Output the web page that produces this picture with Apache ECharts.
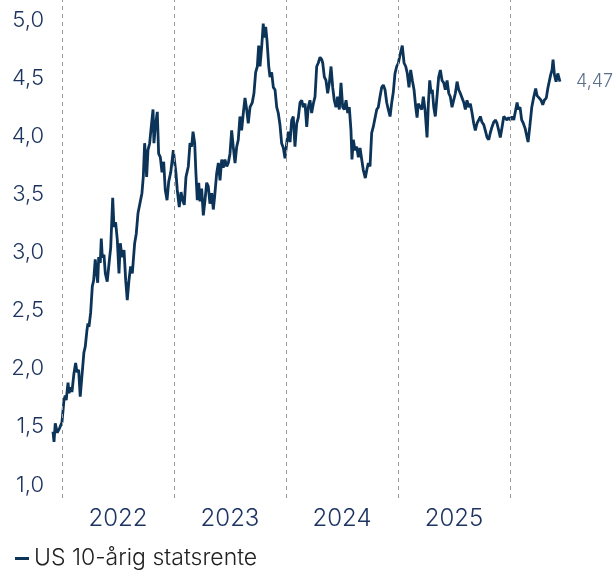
<!DOCTYPE html>
<html>
<head>
<meta charset="utf-8">
<script src="https://cdn.jsdelivr.net/npm/echarts@6/dist/echarts.min.js"></script>
<style>
  html, body { margin: 0; padding: 0; background: #fff; }
  #chart { width: 616px; height: 575px; }
</style>
</head>
<body>
<div id="chart"></div>
<script>
// tid i desimalår, rente i prosent
const time = [
  2021.920, 2021.929, 2021.940, 2021.958, 2021.979, 2022.000, 2022.018, 2022.029, 2022.038, 2022.054,
  2022.063, 2022.078, 2022.089, 2022.107, 2022.122, 2022.134, 2022.149, 2022.163, 2022.179, 2022.196,
  2022.208, 2022.223, 2022.232, 2022.241, 2022.256, 2022.271, 2022.283, 2022.297, 2022.310, 2022.319,
  2022.328, 2022.342, 2022.351, 2022.360, 2022.375, 2022.387, 2022.404, 2022.426, 2022.435, 2022.453,
  2022.464, 2022.479, 2022.494, 2022.509, 2022.521, 2022.536, 2022.554, 2022.569, 2022.583, 2022.598,
  2022.613, 2022.628, 2022.649, 2022.663, 2022.679, 2022.694, 2022.714, 2022.726, 2022.738, 2022.747,
  2022.756, 2022.768, 2022.783, 2022.797, 2022.813, 2022.821, 2022.833, 2022.851, 2022.863, 2022.878,
  2022.893, 2022.908, 2022.922, 2022.938, 2022.953, 2022.971, 2022.994, 2023.018, 2023.029, 2023.047,
  2023.063, 2023.078, 2023.092, 2023.107, 2023.128, 2023.143, 2023.158, 2023.170, 2023.185, 2023.196,
  2023.208, 2023.221, 2023.232, 2023.247, 2023.262, 2023.277, 2023.292, 2023.306, 2023.321, 2023.337,
  2023.351, 2023.363, 2023.381, 2023.396, 2023.411, 2023.426, 2023.440, 2023.455, 2023.471, 2023.485,
  2023.500, 2023.515, 2023.529, 2023.545, 2023.560, 2023.574, 2023.589, 2023.604, 2023.619, 2023.634,
  2023.649, 2023.663, 2023.679, 2023.699, 2023.714, 2023.729, 2023.744, 2023.756, 2023.768, 2023.783,
  2023.797, 2023.806, 2023.819, 2023.830, 2023.846, 2023.857, 2023.872, 2023.887, 2023.902, 2023.917,
  2023.931, 2023.946, 2023.961, 2023.976, 2023.991, 2024.006, 2024.021, 2024.036, 2024.051, 2024.065,
  2024.080, 2024.096, 2024.110, 2024.125, 2024.140, 2024.154, 2024.170, 2024.185, 2024.199, 2024.214,
  2024.229, 2024.244, 2024.259, 2024.274, 2024.288, 2024.304, 2024.319, 2024.328, 2024.342, 2024.357,
  2024.372, 2024.387, 2024.402, 2024.417, 2024.431, 2024.446, 2024.461, 2024.476, 2024.491, 2024.506,
  2024.521, 2024.536, 2024.551, 2024.565, 2024.580, 2024.589, 2024.601, 2024.616, 2024.631, 2024.646,
  2024.661, 2024.676, 2024.690, 2024.708, 2024.721, 2024.735, 2024.750, 2024.765, 2024.779, 2024.795,
  2024.810, 2024.824, 2024.839, 2024.854, 2024.869, 2024.884, 2024.899, 2024.913, 2024.929, 2024.944,
  2024.958, 2024.973, 2024.988, 2025.003, 2025.018, 2025.038, 2025.054, 2025.069, 2025.083, 2025.098,
  2025.113, 2025.128, 2025.143, 2025.158, 2025.170, 2025.181, 2025.196, 2025.212, 2025.226, 2025.241,
  2025.259, 2025.271, 2025.283, 2025.295, 2025.306, 2025.319, 2025.333, 2025.348, 2025.363, 2025.378,
  2025.393, 2025.408, 2025.422, 2025.438, 2025.453, 2025.467, 2025.482, 2025.497, 2025.512, 2025.527,
  2025.542, 2025.556, 2025.571, 2025.587, 2025.601, 2025.616, 2025.631, 2025.646, 2025.661, 2025.676,
  2025.690, 2025.705, 2025.721, 2025.735, 2025.750, 2025.765, 2025.779, 2025.795, 2025.810, 2025.824,
  2025.839, 2025.854, 2025.869, 2025.884, 2025.899, 2025.913, 2025.929, 2025.944, 2025.958, 2025.973,
  2025.988, 2026.003, 2026.018, 2026.033, 2026.047, 2026.063, 2026.074, 2026.089, 2026.104, 2026.119,
  2026.134, 2026.149, 2026.161, 2026.176, 2026.194, 2026.212, 2026.229, 2026.241, 2026.259, 2026.277,
  2026.292, 2026.306, 2026.324, 2026.337, 2026.351, 2026.363, 2026.375, 2026.384, 2026.396, 2026.411,
  2026.426, 2026.440, 2026.446
]
const yields = [
  1.46, 1.37, 1.53, 1.45, 1.49, 1.54, 1.73, 1.77, 1.73, 1.88,
  1.79, 1.84, 1.80, 1.96, 2.05, 1.97, 1.99, 1.76, 1.76, 2.14,
  2.19, 2.33, 2.39, 2.36, 2.48, 2.71, 2.76, 2.94, 2.82, 2.74,
  2.96, 2.91, 3.12, 2.96, 2.98, 2.82, 2.75, 2.96, 3.04, 3.47,
  3.22, 3.26, 3.11, 2.82, 3.08, 2.96, 3.02, 2.76, 2.59, 2.76,
  2.88, 2.82, 3.08, 3.16, 3.34, 3.35, 3.51, 3.65, 3.94, 3.82,
  3.65, 3.88, 3.94, 4.08, 4.23, 3.94, 4.08, 4.21, 3.85, 3.82,
  3.69, 3.78, 3.54, 3.45, 3.61, 3.69, 3.88, 3.68, 3.54, 3.39,
  3.52, 3.45, 3.41, 3.65, 3.74, 3.94, 3.91, 4.04, 3.94, 3.68,
  3.45, 3.60, 3.44, 3.55, 3.32, 3.45, 3.60, 3.57, 3.42, 3.51,
  3.37, 3.48, 3.68, 3.77, 3.62, 3.80, 3.73, 3.80, 3.74, 3.77,
  3.85, 4.05, 3.91, 3.77, 3.91, 3.97, 4.17, 4.05, 4.20, 4.33,
  4.23, 4.11, 4.25, 4.29, 4.37, 4.55, 4.60, 4.78, 4.60, 4.77,
  4.97, 4.85, 4.94, 4.83, 4.60, 4.51, 4.55, 4.42, 4.40, 4.25,
  4.20, 4.10, 3.94, 3.90, 3.81, 3.94, 4.04, 3.95, 4.14, 4.17,
  3.91, 4.11, 4.16, 4.29, 4.31, 4.25, 4.28, 4.08, 4.25, 4.31,
  4.20, 4.28, 4.34, 4.60, 4.63, 4.68, 4.66, 4.63, 4.51, 4.48,
  4.37, 4.46, 4.60, 4.42, 4.31, 4.25, 4.34, 4.23, 4.46, 4.25,
  4.23, 4.31, 4.20, 4.25, 4.05, 3.80, 3.97, 3.88, 3.91, 3.82,
  3.90, 3.80, 3.71, 3.64, 3.71, 3.77, 3.74, 4.03, 4.08, 4.07,
  4.23, 4.25, 4.34, 4.42, 4.44, 4.40, 4.29, 4.23, 4.17, 4.29,
  4.38, 4.54, 4.60, 4.63, 4.70, 4.78, 4.63, 4.60, 4.54, 4.42,
  4.57, 4.48, 4.40, 4.25, 4.16, 4.28, 4.29, 4.23, 4.34, 4.23,
  3.99, 4.28, 4.48, 4.37, 4.40, 4.25, 4.17, 4.34, 4.51, 4.57,
  4.48, 4.46, 4.40, 4.48, 4.37, 4.34, 4.25, 4.24, 4.37, 4.47,
  4.40, 4.37, 4.38, 4.29, 4.23, 4.31, 4.25, 4.28, 4.20, 4.11,
  4.05, 4.11, 4.14, 4.17, 4.12, 4.10, 4.05, 3.99, 3.97, 4.03,
  4.08, 4.12, 4.14, 4.11, 4.05, 3.99, 4.08, 4.17, 4.17, 4.14,
  4.16, 4.14, 4.17, 4.14, 4.14, 4.29, 4.23, 4.25, 4.14, 4.11,
  4.07, 4.08, 3.95, 4.08, 4.25, 4.34, 4.41, 4.35, 4.33, 4.31,
  4.27, 4.31, 4.33, 4.41, 4.40, 4.53, 4.57, 4.66, 4.53, 4.47,
  4.54, 4.55, 4.47
]
const yearLines = [2022, 2023, 2024, 2025, 2026]
const yearLabels = [2022.5, 2023.5, 2024.5, 2025.5]
const seriesName = 'US 10-årig statsrente'

const xMin = 2021.92
const xMax = 2026.446
const font = 'Inter'
const navy = '#0c3358'

const chart = echarts.init(document.getElementById('chart'))
chart.setOption({
  animation: false,
  grid: [
    { left: 53, right: 56, top: 20, bottom: 90 },
    { left: 53, right: 56, top: 0, bottom: 77 }
  ],
  legend: {
    left: 10,
    bottom: 0,
    itemWidth: 14,
    itemHeight: 3,
    icon: 'rect',
    textStyle: { fontFamily: font, fontWeight: 300, fontSize: 23, color: '#222' },
    data: [seriesName]
  },
  xAxis: [
    {
      type: 'value',
      gridIndex: 0,
      min: xMin,
      max: xMax,
      axisLine: { show: false },
      axisTick: { show: false },
      splitLine: { show: false },
      axisLabel: {
        customValues: yearLabels,
        formatter: (v) => String(Math.floor(v)),
        margin: 22,
        fontFamily: font,
        fontWeight: 300,
        fontSize: 24,
        color: '#1d3461'
      }
    },
    {
      type: 'value',
      gridIndex: 1,
      min: xMin,
      max: xMax,
      show: false
    }
  ],
  yAxis: [
    {
      type: 'value',
      gridIndex: 0,
      min: 1,
      max: 5,
      interval: 0.5,
      axisLine: { show: false },
      axisTick: { show: false },
      splitLine: { show: false },
      axisLabel: {
        formatter: (v) => v.toFixed(1).replace('.', ','),
        margin: 9,
        fontFamily: font,
        fontWeight: 300,
        fontSize: 22,
        color: '#1d3461'
      }
    },
    {
      type: 'value',
      gridIndex: 1,
      min: 0,
      max: 1,
      show: false
    }
  ],
  series: [
    {
      name: 'årsskille',
      type: 'line',
      xAxisIndex: 1,
      yAxisIndex: 1,
      data: [],
      silent: true,
      markLine: {
        silent: true,
        symbol: ['none', 'none'],
        label: { show: false },
        lineStyle: { color: '#9a9a9a', type: [4, 4], width: 1 },
        data: yearLines.map((y) => ({ xAxis: y }))
      }
    },
    {
      name: seriesName,
      type: 'line',
      data: time.map((t, i) => [t, yields[i]]),
      showSymbol: false,
      color: navy,
      lineStyle: { color: navy, width: 2.8 },
      endLabel: {
        show: true,
        distance: 16,
        formatter: (p) => p.value[1].toFixed(2).replace('.', ','),
        fontFamily: font,
        fontWeight: 300,
        fontSize: 18,
        color: '#5b6f8e'
      }
    }
  ]
})
</script>
</body>
</html>
